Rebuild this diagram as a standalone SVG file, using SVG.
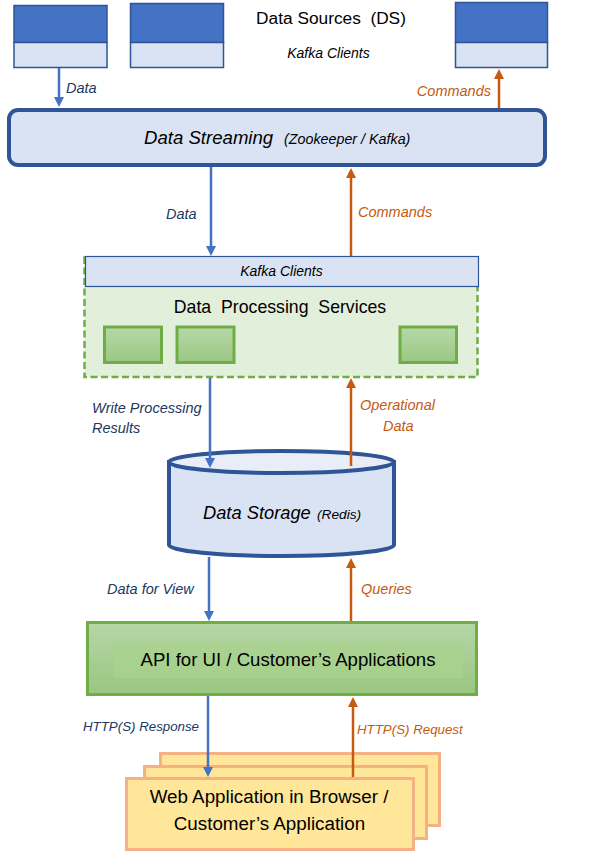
<svg xmlns="http://www.w3.org/2000/svg" width="599" height="855" viewBox="0 0 599 855">
<defs>
<style>
text{font-family:"Liberation Sans",Arial,sans-serif;fill:#000}
.it{font-style:italic}
.lb{font-style:italic;font-size:14.5px;fill:#203864}
.lo{font-style:italic;font-size:14.5px;fill:#C55A11}
.ds-top{fill:#4472C4;stroke:#2F5597;stroke-width:1.5}
.ds-bot{fill:#DAE3F3;stroke:#2F5597;stroke-width:1.5}
.svc{fill:url(#gSvc);stroke:#70AD47;stroke-width:3}
.app{fill:#FFE699;stroke:#F4B183;stroke-width:3}
.cb{stroke:#4472C4;stroke-width:2.5;fill:none;marker-end:url(#ab)}
.co{stroke:#C55A11;stroke-width:2.5;fill:none;marker-end:url(#ao)}
</style>
<linearGradient id="gSvc" x1="0" y1="0" x2="0" y2="1">
<stop offset="0" stop-color="#B6D8A8"/><stop offset="1" stop-color="#9BC783"/>
</linearGradient>
<linearGradient id="gApi" x1="0" y1="0" x2="0" y2="1">
<stop offset="0" stop-color="#B6D6A8"/><stop offset="1" stop-color="#9AC680"/>
</linearGradient>
<marker id="ab" markerUnits="userSpaceOnUse" markerWidth="11" markerHeight="11" refX="6" refY="5.5" orient="auto">
<path d="M0,0.5 L10,5.5 L0,10.5 z" fill="#4472C4"/>
</marker>
<marker id="ao" markerUnits="userSpaceOnUse" markerWidth="11" markerHeight="11" refX="6" refY="5.5" orient="auto">
<path d="M0,0.5 L10,5.5 L0,10.5 z" fill="#C55A11"/>
</marker>
</defs>

<g id="data-sources">
<rect class="ds-top" x="14" y="5.5" width="93" height="37"/>
<rect class="ds-bot" x="14" y="42.5" width="93" height="25"/>
<rect class="ds-top" x="130.5" y="3.5" width="93" height="39"/>
<rect class="ds-bot" x="130.5" y="42.5" width="93" height="25"/>
<rect class="ds-top" x="455.5" y="2.5" width="92" height="40"/>
<rect class="ds-bot" x="455.5" y="42.5" width="92" height="25"/>
<text x="331" y="24" font-size="17.3" text-anchor="middle" xml:space="preserve">Data Sources  (DS)</text>
<text x="328.5" y="58" font-size="14" class="it" text-anchor="middle">Kafka Clients</text>
</g>

<g id="data-streaming">
<rect x="9" y="110" width="536" height="55" rx="9" fill="#DAE3F3" stroke="#2F5597" stroke-width="4"/>
<text x="144" y="144" font-size="18.6" class="it">Data Streaming</text>
<text x="284" y="144" font-size="14.3" class="it">(Zookeeper / Kafka)</text>
</g>

<g id="data-processing">
<rect x="84.5" y="257.5" width="393" height="119.5" fill="#E2EFDA" stroke="#70AD47" stroke-width="2.5" stroke-dasharray="7,3.5"/>
<rect x="85.5" y="256.5" width="393" height="30" fill="#DAE3F3" stroke="#2F5597" stroke-width="1.2"/>
<text x="281.5" y="276" font-size="14" class="it" text-anchor="middle">Kafka Clients</text>
<text x="280" y="313" font-size="17.7" text-anchor="middle" xml:space="preserve">Data  Processing  Services</text>
<rect class="svc" x="104.5" y="327" width="57" height="35.5"/>
<rect class="svc" x="177" y="327" width="57" height="35.5"/>
<rect class="svc" x="400" y="327" width="56.5" height="35.5"/>
</g>

<g id="data-storage">
<path d="M169,462 V545 A112.5,11 0 0 0 394,545 V462 Z" fill="#DAE3F3" stroke="#2F5597" stroke-width="4"/>
<ellipse cx="281.5" cy="462" rx="112.5" ry="11" fill="#E8EDF7" stroke="#2F5597" stroke-width="4"/>
<text x="203" y="519" font-size="18.3" class="it">Data Storage</text>
<text x="317" y="519" font-size="13.7" class="it">(Redis)</text>
</g>

<g id="api">
<rect x="87.5" y="622.5" width="389" height="72" fill="url(#gApi)" stroke="#70AD47" stroke-width="3"/>
<rect x="114" y="641" width="349" height="37" fill="#A9D18E" opacity="0.75"/>
<text x="288" y="666" font-size="18.6" text-anchor="middle">API for UI / Customer’s Applications</text>
</g>

<g id="web-app">
<rect class="app" x="160.5" y="753.5" width="279" height="72"/>
<rect class="app" x="144.5" y="766.5" width="282" height="72"/>
<rect class="app" x="126.5" y="778.5" width="287" height="71"/>
<text x="269" y="803" font-size="18.8" text-anchor="middle">Web Application in Browser /</text>
<text x="269.5" y="830" font-size="18.8" text-anchor="middle">Customer’s Application</text>
</g>

<g id="connectors">
<line class="cb" x1="59" y1="68" x2="59" y2="103"/>
<line class="co" x1="499" y1="108" x2="499" y2="73"/>
<line class="cb" x1="211" y1="167" x2="211" y2="252"/>
<line class="co" x1="351" y1="256" x2="351" y2="172"/>
<line class="cb" x1="210" y1="378" x2="210" y2="464"/>
<line class="co" x1="351" y1="466" x2="351" y2="382"/>
<line class="cb" x1="209" y1="557" x2="209" y2="617"/>
<line class="co" x1="351" y1="621" x2="351" y2="562"/>
<line class="cb" x1="208" y1="696" x2="208" y2="773"/>
<line class="co" x1="353" y1="777" x2="353" y2="701"/>
</g>

<g id="labels">
<text class="lb" x="66" y="93">Data</text>
<text class="lo" x="491" y="96" text-anchor="end">Commands</text>
<text class="lb" x="166" y="219">Data</text>
<text class="lo" x="358" y="217">Commands</text>
<text class="lb" x="92" y="413">Write Processing</text>
<text class="lb" x="92" y="433">Results</text>
<text class="lo" x="360" y="410">Operational</text>
<text class="lo" x="383" y="431">Data</text>
<text class="lb" x="107" y="594">Data for View</text>
<text class="lo" x="361" y="594">Queries</text>
<text class="lb" x="83" y="731" style="font-size:13.3px">HTTP(S) Response</text>
<text class="lo" x="357" y="734" style="font-size:13.3px">HTTP(S) Request</text>
</g>
</svg>
